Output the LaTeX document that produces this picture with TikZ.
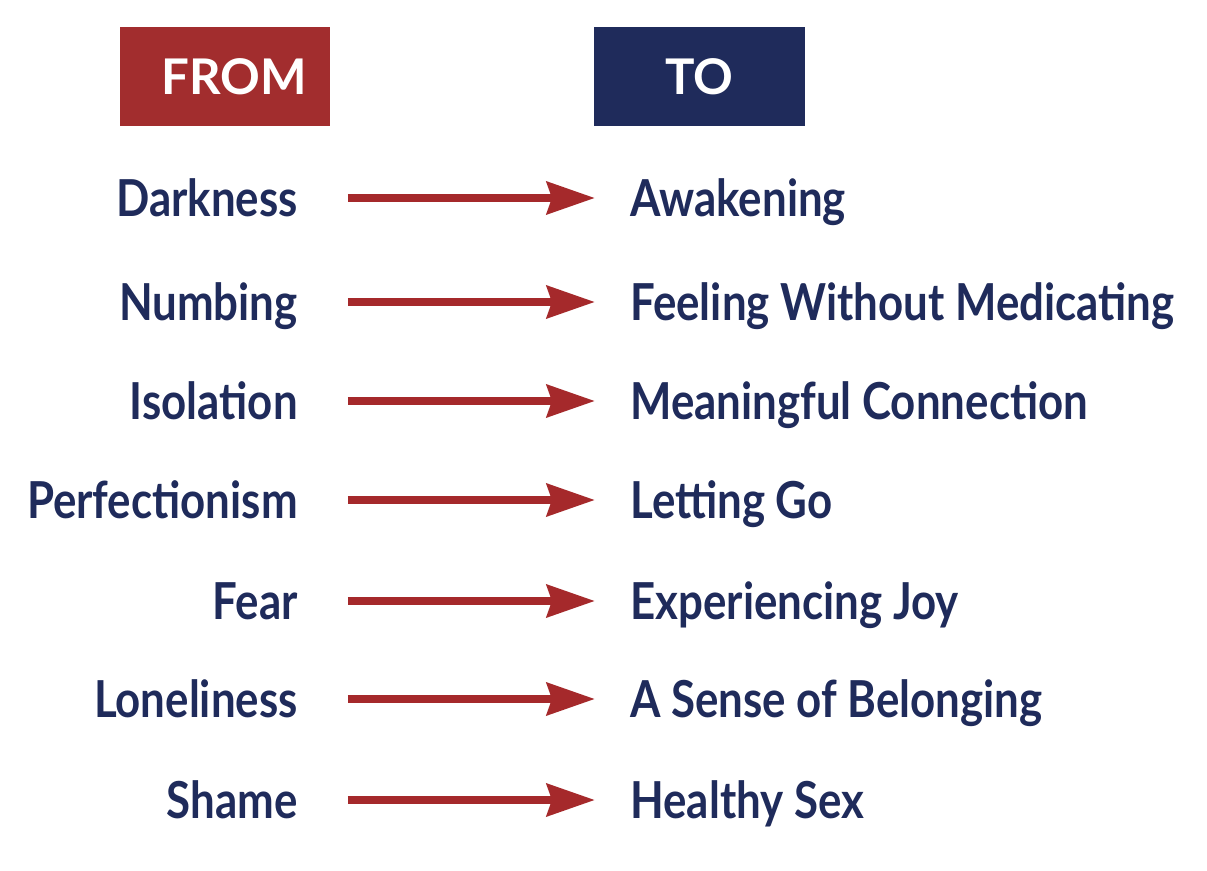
\documentclass[tikz,border=0pt]{standalone}
\usepackage{fontspec}
\setmainfont{Lato}[FakeStretch=0.86]
\newfontfamily\headfont{Lato}
\usetikzlibrary{arrows.meta, positioning}

\definecolor{fromred}{HTML}{A22D2E}
\definecolor{arrred}{HTML}{A5292B}
\definecolor{tonavy}{HTML}{1F2B5B}

\tikzset{
  headbox/.style={fill=#1, text=white, minimum width=4.2cm, minimum height=1.98cm,
    inner sep=0pt, font=\headfont\fontsize{28}{30}\selectfont\bfseries},
  fromtext/.style={anchor=east, inner sep=0pt, text height=0.74cm, text depth=0pt,
    text=tonavy, font=\fontsize{29}{32}\selectfont\bfseries},
  totext/.style={fromtext, anchor=west},
  arr/.style={-{Stealth[length=9.6mm, width=6.4mm, inset=1mm]}, arrred, line width=4.8pt,
    shorten <=1cm, shorten >=0.7cm}
}

\begin{document}
\begin{tikzpicture}[x=0.02cm, y=-0.02cm]
        \useasboundingbox[fill=white] (0,0) rectangle (1207,871);
        % headers
        \node[headbox=fromred] (from) at (225,76.5) {\hspace*{0.36cm}FROM};
        \node[headbox=tonavy, minimum width=4.22cm] (to) at (699.5,76.5) {TO};
        % rows
        \node[fromtext] (l1) at (298,198) {Darkness};
        \node[totext] (r1) at (630,198) {Awakening};
        \node[fromtext] (l2) at (298,302) {Numbing};
        \node[totext] (r2) at (630,302) {Feeling Without Medicating};
        \node[fromtext] (l3) at (298,401) {Isolation};
        \node[totext] (r3) at (630,401) {Meaningful Connection};
        \node[fromtext] (l4) at (298,500) {Perfectionism};
        \node[totext] (r4) at (630,500) {Letting Go};
        \node[fromtext] (l5) at (298,601) {Fear};
        \node[totext] (r5) at (630,601) {Experiencing Joy};
        \node[fromtext] (l6) at (298,699) {Loneliness};
        \node[totext] (r6) at (630,699) {A Sense of Belonging};
        \node[fromtext] (l7) at (298,800) {Shame};
        \node[totext] (r7) at (630,800) {Healthy Sex};
        % arrows
        \draw[arr] (l1) -- (r1);
        \draw[arr] (l2) -- (r2);
        \draw[arr] (l3) -- (r3);
        \draw[arr] (l4) -- (r4);
        \draw[arr] (l5) -- (r5);
        \draw[arr] (l6) -- (r6);
        \draw[arr] (l7) -- (r7);
    \end{tikzpicture}
\end{document}
